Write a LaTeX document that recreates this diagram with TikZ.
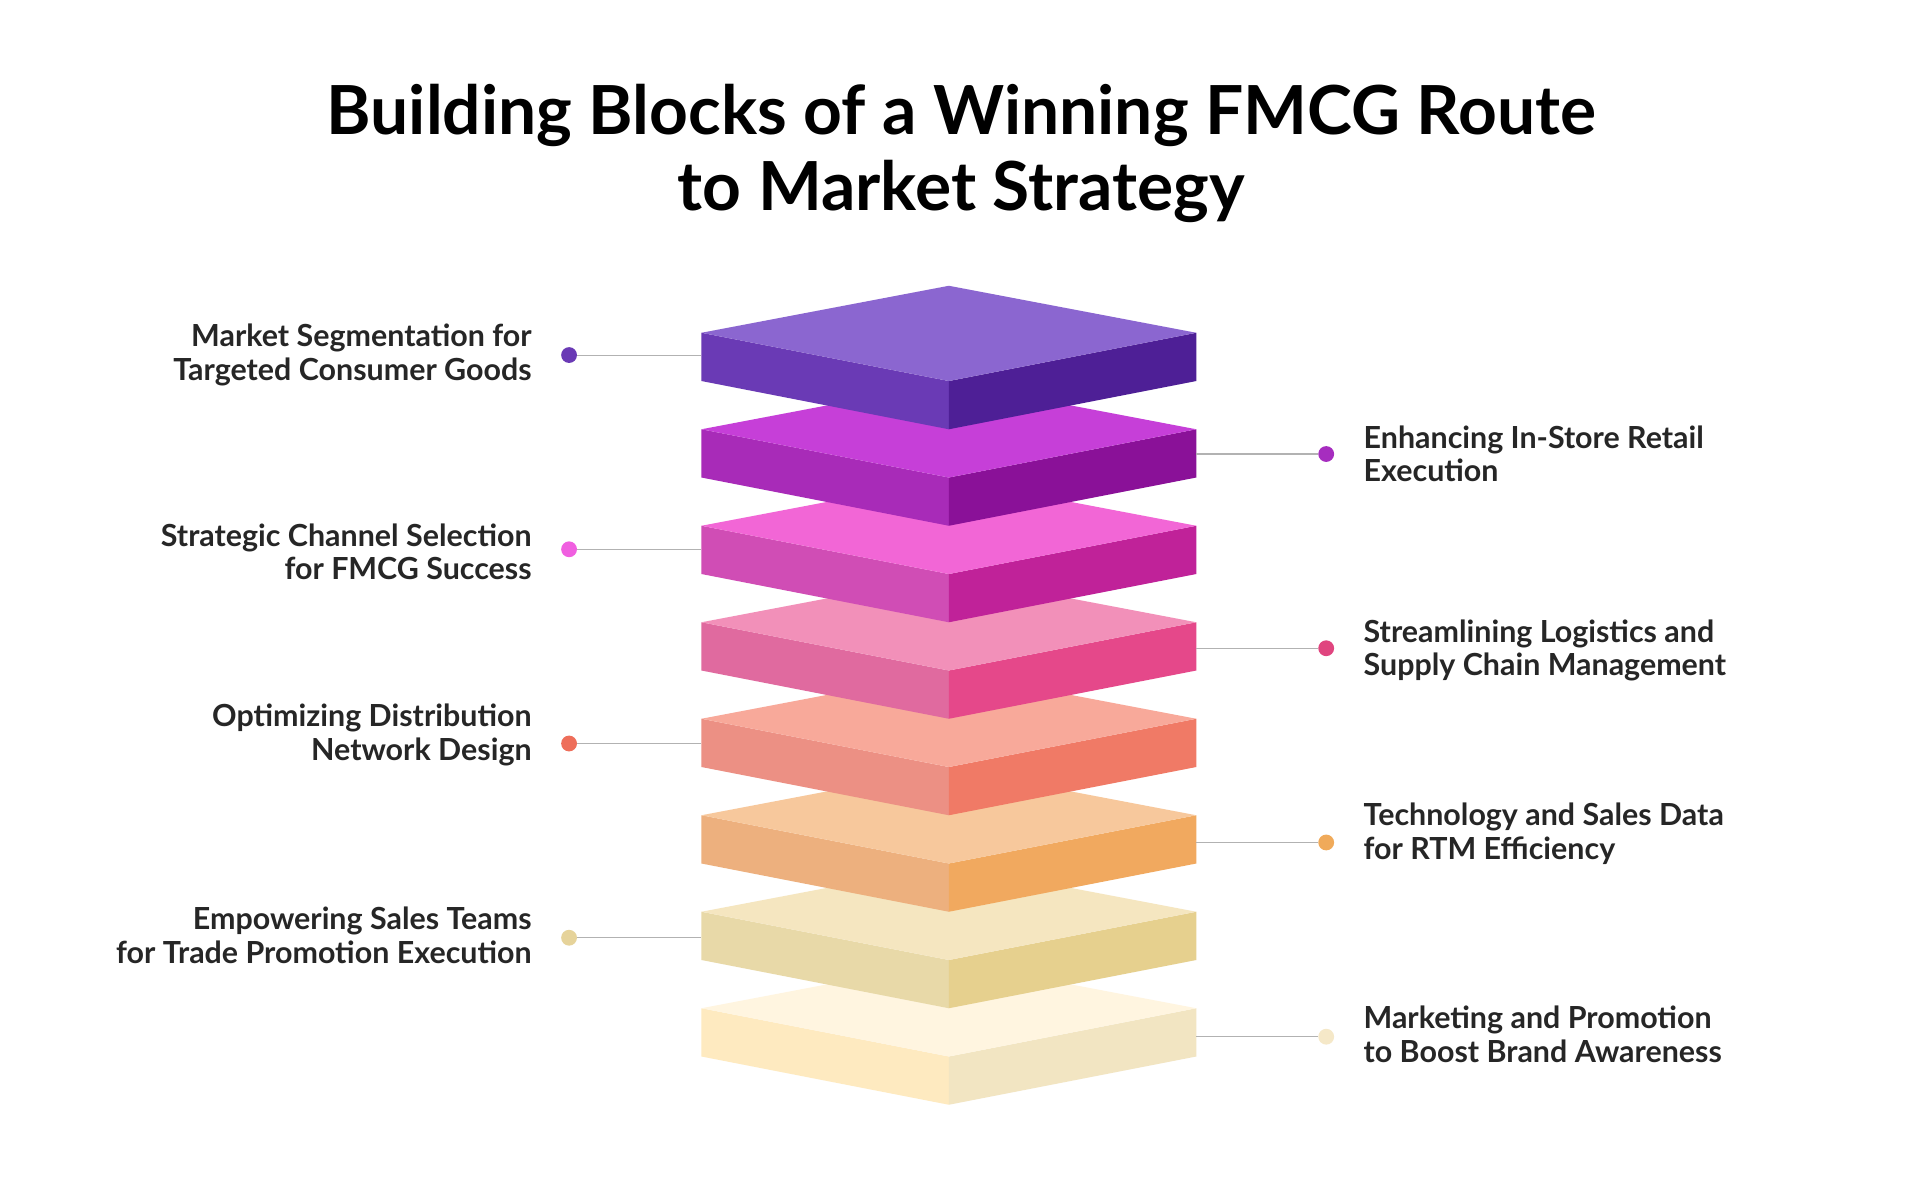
\documentclass[tikz,border=0pt]{standalone}
\usepackage{fontspec}
\setmainfont{Lato}
\begin{document}
\begin{tikzpicture}[x=0.02474cm,y=-0.02474cm,
 lab/.style={font=\fontsize{17.3}{19}\selectfont\bfseries, text=black!85, inner sep=0pt, align=#1},
 conn/.style={draw=black!30, line width=0.6pt},
 dot/.style={circle, fill=#1, minimum size=9pt, inner sep=0pt}]
\useasboundingbox (0,0) rectangle (1552,958);
\fill[white] (0,0) rectangle (1552,958);
\node[font=\fontsize{38.5}{43}\selectfont\bfseries, align=center] (title) at (777,124) {Building Blocks of a Winning FMCG Route\\to Market Strategy};
\def\slab#1#2#3#4{%
 \pgfmathsetmacro\t{231+78*(#1-1)}
 \fill[#3] (567,\t+38) -- (767,\t+77) -- (767,\t+116) -- (567,\t+77) -- cycle;
 \fill[#4] (967,\t+38) -- (767,\t+77) -- (767,\t+116) -- (967,\t+77) -- cycle;
 \fill[#2] (767,\t) -- (967,\t+38) -- (767,\t+77) -- (567,\t+38) -- cycle;
}
\definecolor{a1}{HTML}{8B66D0}\definecolor{b1}{HTML}{6A3AB5}\definecolor{c1}{HTML}{4E1F96}
\definecolor{a2}{HTML}{C63FD8}\definecolor{b2}{HTML}{A82BB8}\definecolor{c2}{HTML}{8A1198}
\definecolor{a3}{HTML}{F266D6}\definecolor{b3}{HTML}{D04DB5}\definecolor{c3}{HTML}{C02299}
\definecolor{a4}{HTML}{F290B9}\definecolor{b4}{HTML}{E06A9F}\definecolor{c4}{HTML}{E5488A}
\definecolor{a5}{HTML}{F8A99A}\definecolor{b5}{HTML}{EC9084}\definecolor{c5}{HTML}{F07A66}
\definecolor{a6}{HTML}{F7C89C}\definecolor{b6}{HTML}{EDB07E}\definecolor{c6}{HTML}{F1A95F}
\definecolor{a7}{HTML}{F5E6C0}\definecolor{b7}{HTML}{E8D9A8}\definecolor{c7}{HTML}{E6D08E}
\definecolor{a8}{HTML}{FFF5E0}\definecolor{b8}{HTML}{FEEAC0}\definecolor{c8}{HTML}{F2E5C2}
\definecolor{p1}{HTML}{6A3AB5}\definecolor{p2}{HTML}{A62DBF}\definecolor{p3}{HTML}{F05FE0}
\definecolor{p4}{HTML}{E0457F}\definecolor{p5}{HTML}{EE6E5A}\definecolor{p6}{HTML}{F0AA5A}
\definecolor{p7}{HTML}{E6D39A}\definecolor{p8}{HTML}{F5E8C8}
\foreach \i in {8,7,...,1}{\slab{\i}{a\i}{b\i}{c\i}}
\coordinate (s1) at (567,287); \coordinate (s3) at (567,444);
\coordinate (s5) at (567,601); \coordinate (s7) at (567,758);
\coordinate (s2) at (967,367); \coordinate (s4) at (967,524);
\coordinate (s6) at (967,681); \coordinate (s8) at (967,838);
\node[dot=p1] (d1) at (460,287) {}; \node[dot=p2] (d2) at (1072,367) {};
\node[dot=p3] (d3) at (460,444) {}; \node[dot=p4] (d4) at (1072,524) {};
\node[dot=p5] (d5) at (460,601) {}; \node[dot=p6] (d6) at (1072,681) {};
\node[dot=p7] (d7) at (460,758) {}; \node[dot=p8] (d8) at (1072,838) {};
\foreach \i in {1,...,8}{\draw[conn] (d\i) -- (s\i);}
\node[lab=right, anchor=east] (l1) at (430,287) {Market Segmentation for\\Targeted Consumer Goods};
\node[lab=right, anchor=east] (l3) at (430,446) {Strategic Channel Selection\\for FMCG Success};
\node[lab=right, anchor=east] (l5) at (430,594) {Optimizing Distribution\\Network Design};
\node[lab=right, anchor=east] (l7) at (430,756) {Empowering Sales Teams\\for Trade Promotion Execution};
\node[lab=left, anchor=west] (l2) at (1102,367) {Enhancing In-Store Retail\\Execution};
\node[lab=left, anchor=west] (l4) at (1102,526) {Streamlining Logistics and\\Supply Chain Management};
\node[lab=left, anchor=west] (l6) at (1102,674) {Technology and Sales Data\\for RTM Efficiency};
\node[lab=left, anchor=west] (l8) at (1102,836) {Marketing and Promotion\\to Boost Brand Awareness};
\end{tikzpicture}
\end{document}
